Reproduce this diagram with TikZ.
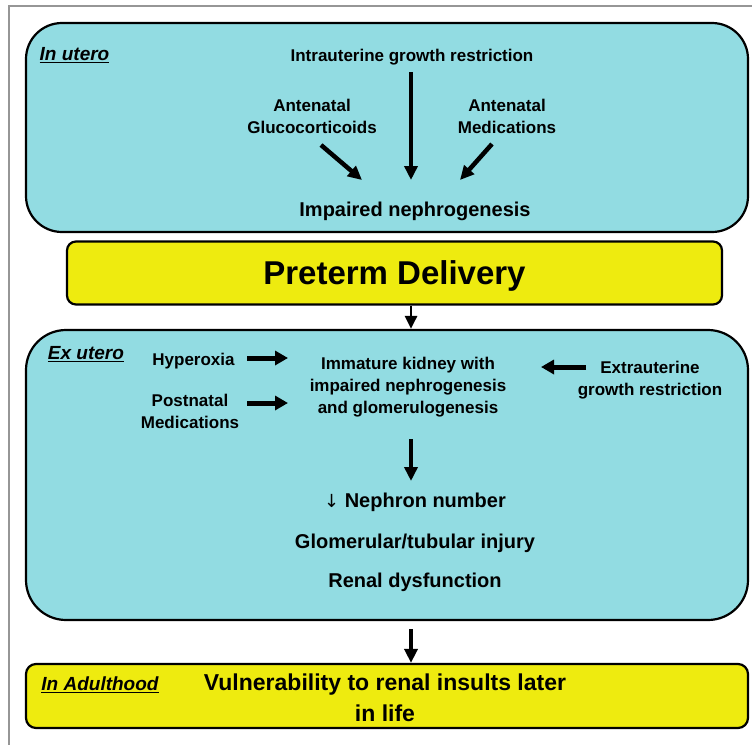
\documentclass[tikz,border=0pt]{standalone}
\usepackage{fontspec}
\setmainfont{Liberation Sans}
\newfontfamily\dejavufam{DejaVu Sans}
\usetikzlibrary{arrows.meta}
\definecolor{cyanbox}{RGB}{146,220,226}
\definecolor{yelbox}{RGB}{238,235,15}
\definecolor{framegray}{RGB}{150,150,150}
\begin{document}
\begin{tikzpicture}[x=1pt,y=-1pt,
  box/.style={draw=black, line width=2.2pt, rectangle, inner sep=0pt},
  lbl/.style={font=\fontsize{17}{22}\selectfont\bfseries, align=center, inner sep=0pt},
  big/.style={font=\fontsize{20}{26}\selectfont\bfseries, align=center, inner sep=0pt},
  tag/.style={font=\fontsize{19}{23}\selectfont\bfseries\itshape, inner sep=0pt},
  arr/.style={line width=3.5pt, -{Triangle[width=13pt,length=14pt]}},
  fatarr/.style={line width=5pt, -{Triangle[width=14pt,length=13pt]}},
]
\useasboundingbox (0,0) rectangle (752,744);
\fill[white] (0,0) rectangle (752,744);
\draw[framegray, line width=1.2pt] (9,760) -- (9,6) -- (760,6);

% boxes
\node[box, fill=cyanbox, rounded corners=36pt, minimum width=722pt, minimum height=209pt] (utero) at (387,127.5) {};
\node[box, fill=yelbox, rounded corners=9pt, minimum width=655pt, minimum height=63pt,
      font=\fontsize{33}{40}\selectfont\bfseries, text depth=0pt] (preterm) at (394.5,273) {Preterm Delivery};
\node[box, fill=cyanbox, rounded corners=40pt, minimum width=722pt, minimum height=290pt] (exutero) at (387,475) {};
\node[box, fill=yelbox, rounded corners=10pt, minimum width=722pt, minimum height=64pt] (adult) at (387,696) {};

% column for vertical connectors
\coordinate (axis) at (411,0);

% In utero
\node[tag] (tutero) at (74.5,55) {\underline{In utero}};
\node[lbl] (iugr) at (412,57.5) {Intrauterine growth restriction};
\node[lbl] (gluco) at (312,116) {Antenatal\\Glucocorticoids};
\node[lbl] (amed) at (507,116) {Antenatal\\Medications};
\node[big] (impaired) at (415,211) {Impaired nephrogenesis};
\coordinate (u1s) at (411,72);  \coordinate (u1e) at (411,180);
\coordinate (u2s) at (321,145); \coordinate (u2e) at (362,180);
\coordinate (u3s) at (492,144); \coordinate (u3e) at (460,180);
\draw[arr] (u1s) -- (u1e);
\draw[arr, line width=4.5pt] (u2s) -- (u2e);
\draw[arr, line width=4.5pt] (u3s) -- (u3e);

% Preterm -> Ex utero
\draw[arr, line width=2.8pt, -{Triangle[width=12pt,length=13pt]}] (preterm.south -| axis) -- (exutero.north -| axis);

% Ex utero
\node[tag] (texutero) at (86,354) {\underline{Ex utero}};
\node[lbl] (hyper) at (193.5,361) {Hyperoxia};
\node[lbl] (pmed) at (190,411.5) {Postnatal\\Medications};
\node[lbl] (immature) at (408,387) {Immature kidney with\\impaired nephrogenesis\\and glomerulogenesis};
\node[lbl] (eugr) at (650,380) {Extrauterine\\growth restriction};
\node[big] (nephron) at (415,502) {{\dejavufam\mdseries\fontsize{18}{18}\selectfont ↓} Nephron number};
\node[big] (injury) at (415,543) {Glomerular/tubular injury};
\node[big] (dysf) at (415,582) {Renal dysfunction};
\coordinate (e1s) at (247,358); \coordinate (e1e) at (288,358);
\coordinate (e2s) at (247,403); \coordinate (e2e) at (288,403);
\coordinate (e3s) at (586,367); \coordinate (e3e) at (541,367);
\coordinate (e4s) at (411,439); \coordinate (e4e) at (411,481);
\draw[fatarr] (e1s) -- (e1e);
\draw[fatarr] (e2s) -- (e2e);
\draw[fatarr] (e3s) -- (e3e);
\draw[arr] (e4s) -- (e4e);

% Ex utero -> Adulthood
\draw[arr, shorten <=8pt] (exutero.south -| axis) -- (adult.north -| axis);

% Adulthood
\node[tag] (tadult) at (100,685) {\underline{In Adulthood}};
\node[font=\fontsize{23}{31}\selectfont\bfseries, align=center, inner sep=0pt] (vuln) at (385,698) {Vulnerability to renal insults later\\in life};
\end{tikzpicture}
\end{document}
